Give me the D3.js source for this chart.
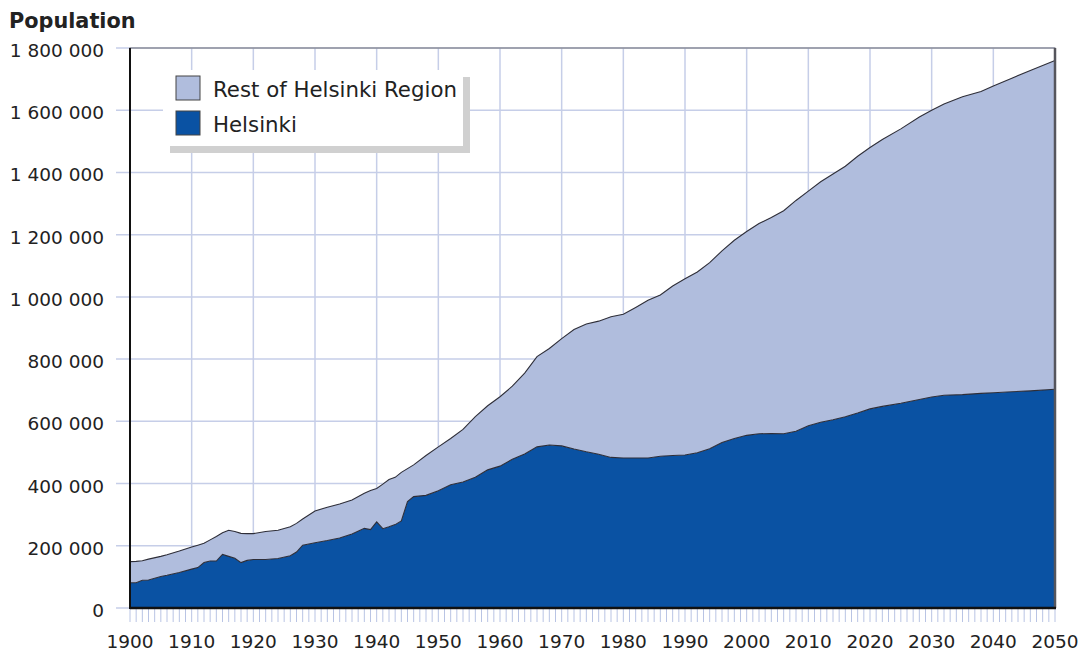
<!DOCTYPE html>
<html>
<head>
<meta charset="utf-8">
<script src="https://cdn.jsdelivr.net/npm/d3@7"></script>
<style>
  body { margin: 0; background: #fff; }
  text { font-family: "DejaVu Sans", Verdana, sans-serif; fill: #222; }
</style>
</head>
<body>
<svg id="chart" width="1086" height="654"></svg>
<script>
// Helsinki Region population, 1900-2050 (values in thousands)

var years = [1900, 1901, 1902, 1903, 1905, 1906, 1908, 1910, 1911, 1912, 1913, 1914,
  1915, 1916, 1917, 1918, 1919, 1920, 1922, 1924, 1926, 1927, 1928, 1930, 1932, 1934,
  1936, 1938, 1939, 1940, 1941, 1942, 1943, 1944, 1945, 1946, 1948, 1950, 1952, 1954,
  1956, 1958, 1960, 1962, 1964, 1966, 1968, 1970, 1972, 1974, 1976, 1978, 1980, 1982,
  1984, 1986, 1988, 1990, 1992, 1994, 1996, 1998, 2000, 2002, 2004, 2006, 2008, 2010,
  2012, 2014, 2016, 2018, 2020, 2022, 2025, 2028, 2030, 2032, 2035, 2038, 2040, 2043,
  2046, 2050];

var helsinki = [81, 81, 89, 90, 101, 105, 114, 125, 130, 146, 151, 151,
  172, 166, 160, 146, 153, 156, 156, 159, 168, 180, 202, 210, 217, 225,
  238, 256, 252, 277, 255, 261, 268, 280, 342, 358, 362, 377, 396, 405,
  420, 444, 456, 478, 495, 518, 524, 521, 511, 502, 494, 484, 482, 482,
  482, 488, 490, 492, 499, 512, 532, 545, 555, 560, 561, 560, 568, 586,
  597, 605, 615, 627, 640, 648, 658, 670, 678, 684, 686, 690, 692, 695,
  698, 703];

var restOfRegion = [68, 69, 63, 67, 65, 66, 69, 71, 72, 62, 68, 79,
  70, 84, 86, 94, 86, 83, 90, 91, 93, 92, 84, 102, 107, 109,
  109, 113, 126, 107, 143, 152, 152, 156, 106, 102, 128, 141, 149, 169,
  195, 206, 223, 235, 260, 290, 310, 345, 384, 411, 428, 452, 462, 484,
  507, 518, 545, 566, 581, 598, 616, 637, 655, 676, 694, 717, 742, 754,
  773, 790, 805, 825, 840, 858, 882, 908, 922, 936, 957, 970, 986, 1008,
  1030, 1057];

var seriesNames = ["Helsinki", "Rest of Helsinki Region"];
var seriesColors = ["#0a52a3", "#b0bddd"];
var yTicks = [0, 200000, 400000, 600000, 800000, 1000000, 1200000, 1400000, 1600000, 1800000];
var xTicks = d3.range(1900, 2051, 10);

///////////////////////////////////////////////////////////////////////////////
// Setup

var svg = d3.select("#chart");
var margin = {left: 130, right: 31, top: 48, bottom: 46};
var width = 1086 - margin.left - margin.right;
var height = 654 - margin.top - margin.bottom;

var x = d3.scaleLinear().domain([1900, 2050]).range([margin.left, margin.left + width]);
var y = d3.scaleLinear().domain([0, 1800000]).range([margin.top + height, margin.top]);

var rows = years.map(function (yr, i) {
  return {year: yr, Helsinki: helsinki[i] * 1000, "Rest of Helsinki Region": restOfRegion[i] * 1000};
});
var stacked = d3.stack().keys(seriesNames)(rows);

var fmt = function (d) { return d3.format(",")(d).replace(/,/g, " "); };

///////////////////////////////////////////////////////////////////////////////
// Grid

var grid = svg.append("g").attr("stroke", "#c6cee8").attr("stroke-width", 1.5);
grid.selectAll("line.h").data(yTicks).enter().append("line")
  .attr("x1", margin.left - 14).attr("x2", margin.left + width)
  .attr("y1", function (d) { return y(d); }).attr("y2", function (d) { return y(d); });
grid.selectAll("line.v").data(xTicks).enter().append("line")
  .attr("x1", function (d) { return x(d); }).attr("x2", function (d) { return x(d); })
  .attr("y1", margin.top).attr("y2", margin.top + height);

// yearly minor ticks below the axis
svg.append("g").attr("stroke", "#b9c4e4").attr("stroke-width", 1)
  .selectAll("line").data(d3.range(1900, 2051)).enter().append("line")
  .attr("x1", function (d) { return x(d); }).attr("x2", function (d) { return x(d); })
  .attr("y1", margin.top + height).attr("y2", margin.top + height + 14);

///////////////////////////////////////////////////////////////////////////////
// Areas

var area = d3.area()
  .x(function (d) { return x(d.data.year); })
  .y0(function (d) { return y(d[0]); })
  .y1(function (d) { return y(d[1]); });
var topLine = d3.line()
  .x(function (d) { return x(d.data.year); })
  .y(function (d) { return y(d[1]); });

svg.append("g").selectAll("path.area").data(stacked).enter().append("path")
  .attr("d", area)
  .attr("fill", function (d, i) { return seriesColors[i]; });
svg.append("g").selectAll("path.edge").data(stacked).enter().append("path")
  .attr("d", topLine)
  .attr("fill", "none").attr("stroke", "#2e2e38").attr("stroke-width", 1.1);

///////////////////////////////////////////////////////////////////////////////
// Frame

svg.append("rect").attr("x", margin.left).attr("y", margin.top)
  .attr("width", width).attr("height", height)
  .attr("fill", "none").attr("stroke", "#6a6a70").attr("stroke-width", 1);
svg.append("line").attr("x1", x(2050)).attr("x2", x(2050))
  .attr("y1", margin.top).attr("y2", margin.top + height)
  .attr("stroke", "#55555c").attr("stroke-width", 2.5);
svg.append("line").attr("x1", margin.left).attr("x2", margin.left)
  .attr("y1", margin.top).attr("y2", margin.top + height + 1)
  .attr("stroke", "#111").attr("stroke-width", 2);
svg.append("line").attr("x1", margin.left).attr("x2", margin.left + width + 1)
  .attr("y1", margin.top + height).attr("y2", margin.top + height)
  .attr("stroke", "#111").attr("stroke-width", 2.5);

///////////////////////////////////////////////////////////////////////////////
// Labels

svg.append("g").selectAll("text").data(yTicks).enter().append("text")
  .attr("x", 104).attr("y", function (d) { return y(d) + 9; })
  .attr("text-anchor", "end").style("font-size", "18.5px")
  .text(fmt);

svg.append("g").selectAll("text").data(xTicks).enter().append("text")
  .attr("x", function (d) { return x(d); }).attr("y", 648)
  .attr("text-anchor", "middle").style("font-size", "18.5px")
  .text(function (d) { return d; });

svg.append("text").attr("x", 9).attr("y", 28)
  .style("font-size", "20.8px").style("font-weight", "bold")
  .text("Population");

///////////////////////////////////////////////////////////////////////////////
// Legend

var legend = svg.append("g");
legend.append("rect").attr("x", 170).attr("y", 77).attr("width", 300).attr("height", 76)
  .attr("fill", "#d0d0d0");
legend.append("rect").attr("x", 163).attr("y", 70).attr("width", 300).attr("height", 76)
  .attr("fill", "#fff");

var legendItems = [seriesNames[1], seriesNames[0]];
var item = legend.selectAll("g.item").data(legendItems).enter().append("g")
  .attr("transform", function (d, i) { return "translate(176," + (76 + i * 35) + ")"; });
item.append("rect").attr("width", 24).attr("height", 24)
  .attr("fill", function (d) { return seriesColors[seriesNames.indexOf(d)]; })
  .attr("stroke", "#444").attr("stroke-width", 1);
item.append("text").attr("x", 37).attr("y", 21)
  .style("font-size", "21.3px")
  .text(function (d) { return d; });
</script>
</body>
</html>
